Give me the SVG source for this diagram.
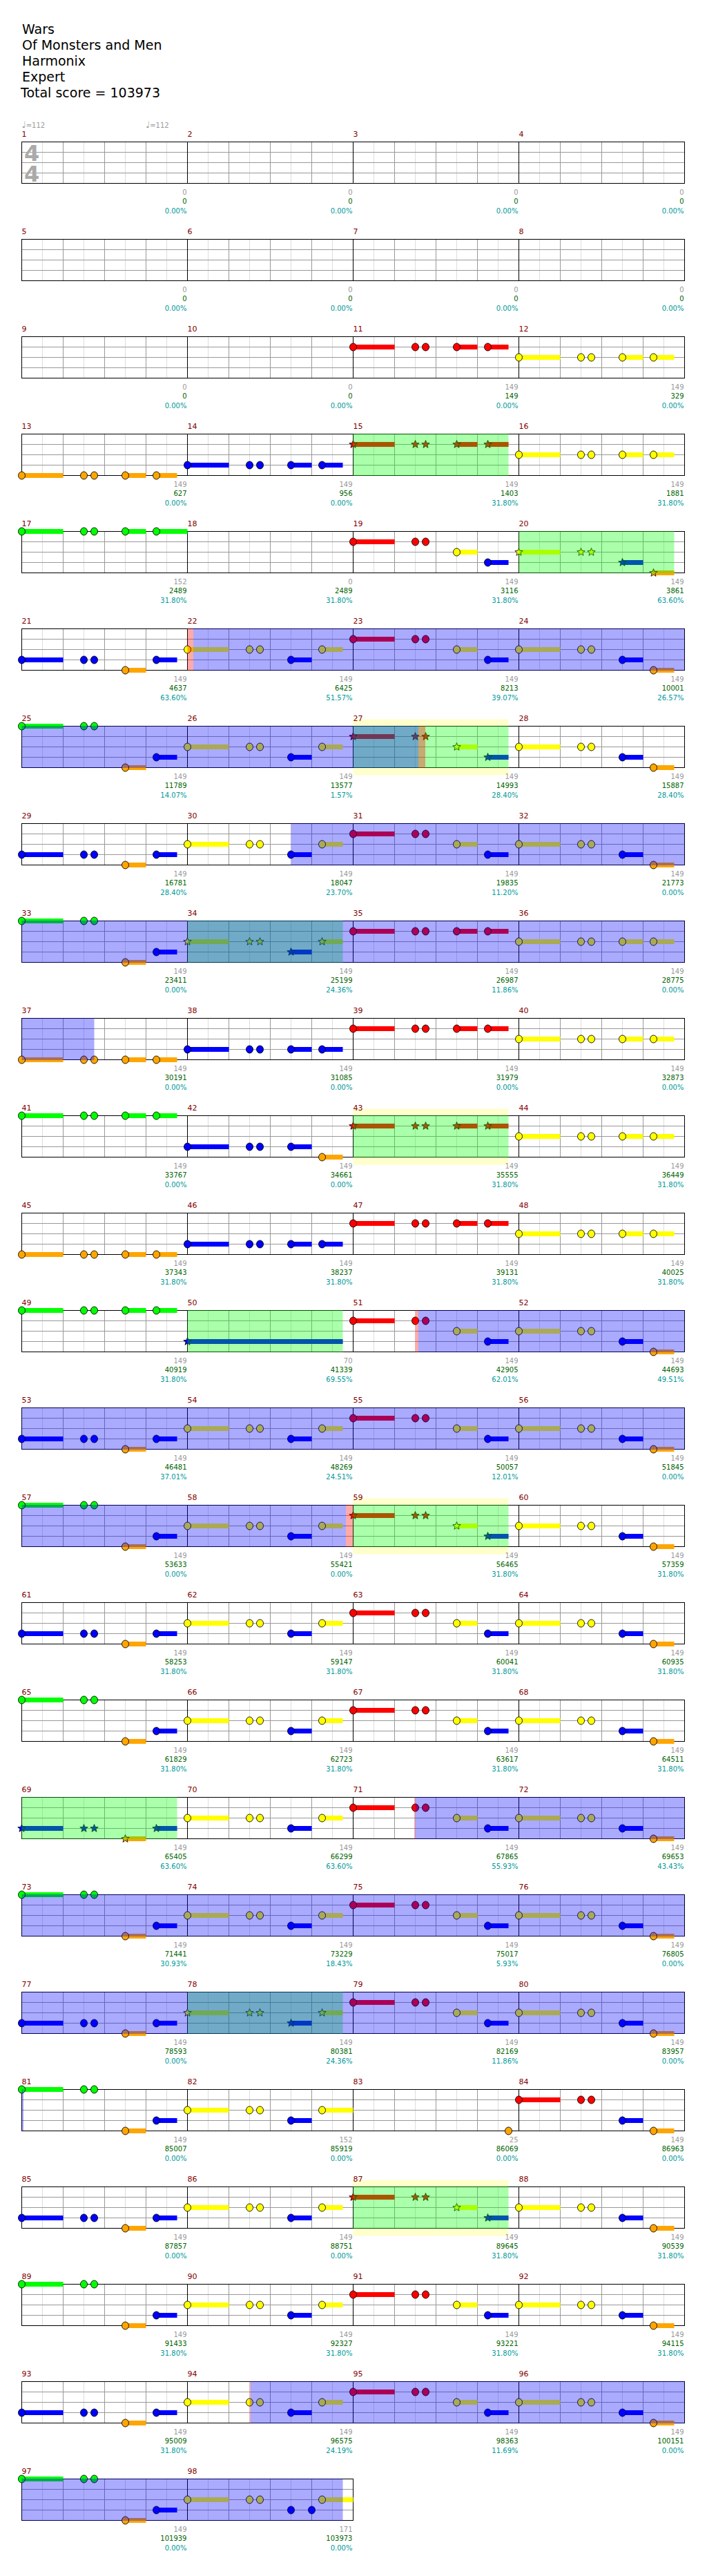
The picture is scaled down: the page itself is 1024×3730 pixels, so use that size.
<svg xmlns="http://www.w3.org/2000/svg" width="1024" height="3730" viewBox="0 0 1024 3730">
<style>
text{font-family:"DejaVu Sans","Liberation Sans",sans-serif}
.h{font-size:19px;fill:#000}
.mn{font-size:11px;fill:#800000}
.g{font-size:10px;fill:#999;text-anchor:end}
.s{font-size:10px;fill:#006400;text-anchor:end}
.p{font-size:10px;fill:#009999;text-anchor:end}
.ts{font-size:32px;font-weight:bold;fill:#aaa}
.tp{font-size:10px;fill:#999}
.ob{fill:#00f;fill-opacity:.333}
.og{fill:#0f0;fill-opacity:.333}
.or{fill:#f00;fill-opacity:.333}
.oy{fill:#ff0;fill-opacity:.2}
</style>
<defs>
<ellipse id="n" rx="5" ry="5.5" stroke="#000" stroke-width="0.9"/>
<polygon id="st" points="0,-6 1.53,-2.1 5.71,-1.85 2.47,0.8 3.53,4.85 0,2.6 -3.53,4.85 -2.47,0.8 -5.71,-1.85 -1.53,-2.1" stroke="#000" stroke-width="0.8"/>
<g id="p1"><rect x="0" y="-3.5" width="60" height="7"/><use href="#n"/><use href="#n" x="90"/><use href="#n" x="105"/></g>
<g id="p2"><rect x="150" y="-3.5" width="30" height="7"/><use href="#n" x="150"/></g>
<g id="p3"><rect x="195" y="-3.5" width="30" height="7"/><use href="#n" x="195"/></g>
<g id="p3L"><rect x="195" y="-3.5" width="45" height="7"/><use href="#n" x="195"/></g>
<g id="s1"><rect x="0" y="-3.5" width="60" height="7"/><use href="#st"/><use href="#st" x="90"/><use href="#st" x="105"/></g>
<g id="s2"><rect x="150" y="-3.5" width="30" height="7"/><use href="#st" x="150"/></g>
<g id="s3"><rect x="195" y="-3.5" width="30" height="7"/><use href="#st" x="195"/></g>
<g id="e"><use href="#p1"/><use href="#p2"/><use href="#p3"/></g>
<g id="es"><use href="#s1"/><use href="#s2"/><use href="#s3"/></g>
<g id="mA"><use href="#p1" y="45" fill="#00f"/><use href="#p2" y="60" fill="#ffa500"/><use href="#p3" y="45" fill="#00f"/></g>
<g id="mAG"><use href="#p1" y="0" fill="#0f0"/><use href="#p2" y="60" fill="#ffa500"/><use href="#p3" y="45" fill="#00f"/></g>
<g id="mB"><use href="#p1" y="30" fill="#ff0"/><use href="#p2" y="45" fill="#00f"/><use href="#p3" y="30" fill="#ff0"/></g>
<g id="mC"><use href="#p1" y="15" fill="#f00"/><use href="#p2" y="30" fill="#ff0"/><use href="#p3" y="45" fill="#00f"/></g>
<g id="mD"><use href="#p1" y="30" fill="#ff0"/><use href="#p2" y="45" fill="#00f"/><use href="#p3" y="60" fill="#ffa500"/></g>
<g id="mAs"><use href="#s1" y="45" fill="#00f"/><use href="#s2" y="60" fill="#ffa500"/><use href="#s3" y="45" fill="#00f"/></g>
<g id="mBs"><use href="#s1" y="30" fill="#ff0"/><use href="#s2" y="45" fill="#00f"/><use href="#s3" y="30" fill="#ff0"/></g>
<g id="mCs"><use href="#s1" y="15" fill="#f00"/><use href="#s2" y="30" fill="#ff0"/><use href="#s3" y="45" fill="#00f"/></g>
<g id="mDs"><use href="#s1" y="30" fill="#ff0"/><use href="#s2" y="45" fill="#00f"/><use href="#s3" y="60" fill="#ffa500"/></g>
<g id="mg">
<path d="M30 0V60M90 0V60M150 0V60M210 0V60" stroke="#ddd" fill="none"/>
<path d="M60 0V60M120 0V60M180 0V60" stroke="#999" fill="none"/>
<path d="M0 15H240M0 30H240M0 45H240" stroke="#999" fill="none"/>
<path d="M0 0V60" stroke="#000" fill="none"/>
</g>
<g id="rg"><rect width="960" height="60" fill="#fff"/><use href="#mg"/><use href="#mg" x="240"/><use href="#mg" x="480"/><use href="#mg" x="720"/><rect width="960" height="60" fill="none" stroke="#000"/></g>
<g id="rh"><rect width="480" height="60" fill="#fff"/><use href="#mg"/><use href="#mg" x="240"/><rect width="480" height="60" fill="none" stroke="#000"/></g>
</defs>
<rect width="1024" height="3730" fill="#fff"/>
<g id="header">
<text class="h" x="32" y="49">Wars</text>
<text class="h" x="32" y="72">Of Monsters and Men</text>
<text class="h" x="32" y="95">Harmonix</text>
<text class="h" x="32" y="118">Expert</text>
<text class="h" x="30" y="141">Total score = 103973</text>
</g>

<g id="row1" transform="translate(31.5 205.5)">
<use href="#rg"/>
<text class="ts"><tspan x="3.5" y="27">4</tspan><tspan x="3.5" y="57">4</tspan></text>
<text class="tp" x="0" y="-20.5"><tspan font-size="13">♩</tspan>=112</text>
<text class="tp" x="179.5" y="-20.5"><tspan font-size="13">♩</tspan>=112</text>
<text class="mn" y="-7.5"><tspan x="0">1</tspan><tspan x="240">2</tspan><tspan x="480">3</tspan><tspan x="720">4</tspan></text>
<text class="g" y="76"><tspan x="239">0</tspan><tspan x="479">0</tspan><tspan x="719">0</tspan><tspan x="959">0</tspan></text>
<text class="s" y="89.5"><tspan x="239">0</tspan><tspan x="479">0</tspan><tspan x="719">0</tspan><tspan x="959">0</tspan></text>
<text class="p" y="103"><tspan x="239">0.00%</tspan><tspan x="479">0.00%</tspan><tspan x="719">0.00%</tspan><tspan x="959">0.00%</tspan></text>
</g>

<g id="row2" transform="translate(31.5 346.5)">
<use href="#rg"/>
<text class="mn" y="-7.5"><tspan x="0">5</tspan><tspan x="240">6</tspan><tspan x="480">7</tspan><tspan x="720">8</tspan></text>
<text class="g" y="76"><tspan x="239">0</tspan><tspan x="479">0</tspan><tspan x="719">0</tspan><tspan x="959">0</tspan></text>
<text class="s" y="89.5"><tspan x="239">0</tspan><tspan x="479">0</tspan><tspan x="719">0</tspan><tspan x="959">0</tspan></text>
<text class="p" y="103"><tspan x="239">0.00%</tspan><tspan x="479">0.00%</tspan><tspan x="719">0.00%</tspan><tspan x="959">0.00%</tspan></text>
</g>

<g id="row3" transform="translate(31.5 487.5)">
<use href="#rg"/>
<use href="#e" x="480" y="15" fill="#f00"/><use href="#e" x="720" y="30" fill="#ff0"/>
<text class="mn" y="-7.5"><tspan x="0">9</tspan><tspan x="240">10</tspan><tspan x="480">11</tspan><tspan x="720">12</tspan></text>
<text class="g" y="76"><tspan x="239">0</tspan><tspan x="479">0</tspan><tspan x="719">149</tspan><tspan x="959">149</tspan></text>
<text class="s" y="89.5"><tspan x="239">0</tspan><tspan x="479">0</tspan><tspan x="719">149</tspan><tspan x="959">329</tspan></text>
<text class="p" y="103"><tspan x="239">0.00%</tspan><tspan x="479">0.00%</tspan><tspan x="719">0.00%</tspan><tspan x="959">0.00%</tspan></text>
</g>

<g id="row4" transform="translate(31.5 628.5)">
<use href="#rg"/>
<use href="#e" x="0" y="60" fill="#ffa500"/><use href="#e" x="240" y="45" fill="#00f"/><use href="#es" x="480" y="15" fill="#f00"/><use href="#e" x="720" y="30" fill="#ff0"/>
<rect class="og" x="480" y="-0.5" width="225" height="61"/>
<text class="mn" y="-7.5"><tspan x="0">13</tspan><tspan x="240">14</tspan><tspan x="480">15</tspan><tspan x="720">16</tspan></text>
<text class="g" y="76"><tspan x="239">149</tspan><tspan x="479">149</tspan><tspan x="719">149</tspan><tspan x="959">149</tspan></text>
<text class="s" y="89.5"><tspan x="239">627</tspan><tspan x="479">956</tspan><tspan x="719">1403</tspan><tspan x="959">1881</tspan></text>
<text class="p" y="103"><tspan x="239">0.00%</tspan><tspan x="479">0.00%</tspan><tspan x="719">31.80%</tspan><tspan x="959">31.80%</tspan></text>
</g>

<g id="row5" transform="translate(31.5 769.5)">
<use href="#rg"/>
<use href="#p1" fill="#0f0"/><use href="#p2" fill="#0f0"/><use href="#p3L" fill="#0f0"/>
<use href="#mC" x="480"/><use href="#mDs" x="720"/>
<rect class="og" x="720" y="-0.5" width="225" height="61"/>
<text class="mn" y="-7.5"><tspan x="0">17</tspan><tspan x="240">18</tspan><tspan x="480">19</tspan><tspan x="720">20</tspan></text>
<text class="g" y="76"><tspan x="239">152</tspan><tspan x="479">0</tspan><tspan x="719">149</tspan><tspan x="959">149</tspan></text>
<text class="s" y="89.5"><tspan x="239">2489</tspan><tspan x="479">2489</tspan><tspan x="719">3116</tspan><tspan x="959">3861</tspan></text>
<text class="p" y="103"><tspan x="239">31.80%</tspan><tspan x="479">31.80%</tspan><tspan x="719">31.80%</tspan><tspan x="959">63.60%</tspan></text>
</g>

<g id="row6" transform="translate(31.5 910.5)">
<use href="#rg"/>
<use href="#mA" x="0"/><use href="#mB" x="240"/><use href="#mC" x="480"/><use href="#mD" x="720"/>
<rect class="or" x="240" y="-0.5" width="8.5" height="61"/>
<rect class="ob" x="248.5" y="-0.5" width="711.5" height="61"/>
<text class="mn" y="-7.5"><tspan x="0">21</tspan><tspan x="240">22</tspan><tspan x="480">23</tspan><tspan x="720">24</tspan></text>
<text class="g" y="76"><tspan x="239">149</tspan><tspan x="479">149</tspan><tspan x="719">149</tspan><tspan x="959">149</tspan></text>
<text class="s" y="89.5"><tspan x="239">4637</tspan><tspan x="479">6425</tspan><tspan x="719">8213</tspan><tspan x="959">10001</tspan></text>
<text class="p" y="103"><tspan x="239">63.60%</tspan><tspan x="479">51.57%</tspan><tspan x="719">39.07%</tspan><tspan x="959">26.57%</tspan></text>
</g>

<g id="row7" transform="translate(31.5 1051.5)">
<rect class="oy" x="480" y="-10" width="225" height="81"/>
<use href="#rg"/>
<use href="#mAG" x="0"/><use href="#mB" x="240"/><use href="#mCs" x="480"/><use href="#mD" x="720"/>
<rect class="og" x="480" y="-0.5" width="225" height="61"/>
<rect class="or" x="574.5" y="-0.5" width="10" height="61"/>
<rect class="ob" x="0" y="-0.5" width="574.5" height="61"/>
<text class="mn" y="-7.5"><tspan x="0">25</tspan><tspan x="240">26</tspan><tspan x="480">27</tspan><tspan x="720">28</tspan></text>
<text class="g" y="76"><tspan x="239">149</tspan><tspan x="479">149</tspan><tspan x="719">149</tspan><tspan x="959">149</tspan></text>
<text class="s" y="89.5"><tspan x="239">11789</tspan><tspan x="479">13577</tspan><tspan x="719">14993</tspan><tspan x="959">15887</tspan></text>
<text class="p" y="103"><tspan x="239">14.07%</tspan><tspan x="479">1.57%</tspan><tspan x="719">28.40%</tspan><tspan x="959">28.40%</tspan></text>
</g>

<g id="row8" transform="translate(31.5 1192.5)">
<use href="#rg"/>
<use href="#mA" x="0"/><use href="#mB" x="240"/><use href="#mC" x="480"/><use href="#mD" x="720"/>
<rect class="ob" x="390" y="-0.5" width="570" height="61"/>
<text class="mn" y="-7.5"><tspan x="0">29</tspan><tspan x="240">30</tspan><tspan x="480">31</tspan><tspan x="720">32</tspan></text>
<text class="g" y="76"><tspan x="239">149</tspan><tspan x="479">149</tspan><tspan x="719">149</tspan><tspan x="959">149</tspan></text>
<text class="s" y="89.5"><tspan x="239">16781</tspan><tspan x="479">18047</tspan><tspan x="719">19835</tspan><tspan x="959">21773</tspan></text>
<text class="p" y="103"><tspan x="239">28.40%</tspan><tspan x="479">23.70%</tspan><tspan x="719">11.20%</tspan><tspan x="959">0.00%</tspan></text>
</g>

<g id="row9" transform="translate(31.5 1333.5)">
<use href="#rg"/>
<use href="#mAG" x="0"/><use href="#mBs" x="240"/><use href="#e" x="480" y="15" fill="#f00"/><use href="#e" x="720" y="30" fill="#ff0"/>
<rect class="og" x="240" y="-0.5" width="225" height="61"/>
<rect class="ob" x="0" y="-0.5" width="960" height="61"/>
<text class="mn" y="-7.5"><tspan x="0">33</tspan><tspan x="240">34</tspan><tspan x="480">35</tspan><tspan x="720">36</tspan></text>
<text class="g" y="76"><tspan x="239">149</tspan><tspan x="479">149</tspan><tspan x="719">149</tspan><tspan x="959">149</tspan></text>
<text class="s" y="89.5"><tspan x="239">23411</tspan><tspan x="479">25199</tspan><tspan x="719">26987</tspan><tspan x="959">28775</tspan></text>
<text class="p" y="103"><tspan x="239">0.00%</tspan><tspan x="479">24.36%</tspan><tspan x="719">11.86%</tspan><tspan x="959">0.00%</tspan></text>
</g>

<g id="row10" transform="translate(31.5 1474.5)">
<use href="#rg"/>
<use href="#e" x="0" y="60" fill="#ffa500"/><use href="#e" x="240" y="45" fill="#00f"/><use href="#e" x="480" y="15" fill="#f00"/><use href="#e" x="720" y="30" fill="#ff0"/>
<rect class="ob" x="0" y="-0.5" width="105" height="61"/>
<text class="mn" y="-7.5"><tspan x="0">37</tspan><tspan x="240">38</tspan><tspan x="480">39</tspan><tspan x="720">40</tspan></text>
<text class="g" y="76"><tspan x="239">149</tspan><tspan x="479">149</tspan><tspan x="719">149</tspan><tspan x="959">149</tspan></text>
<text class="s" y="89.5"><tspan x="239">30191</tspan><tspan x="479">31085</tspan><tspan x="719">31979</tspan><tspan x="959">32873</tspan></text>
<text class="p" y="103"><tspan x="239">0.00%</tspan><tspan x="479">0.00%</tspan><tspan x="719">0.00%</tspan><tspan x="959">0.00%</tspan></text>
</g>

<g id="row11" transform="translate(31.5 1615.5)">
<rect class="oy" x="480" y="-10" width="225" height="81"/>
<use href="#rg"/>
<use href="#e" x="0" y="0" fill="#0f0"/>
<use href="#p1" x="240" y="45" fill="#00f"/><use href="#p2" x="240" y="45" fill="#00f"/><use href="#p3" x="240" y="60" fill="#ffa500"/>
<use href="#es" x="480" y="15" fill="#f00"/><use href="#e" x="720" y="30" fill="#ff0"/>
<rect class="og" x="480" y="-0.5" width="225" height="61"/>
<text class="mn" y="-7.5"><tspan x="0">41</tspan><tspan x="240">42</tspan><tspan x="480">43</tspan><tspan x="720">44</tspan></text>
<text class="g" y="76"><tspan x="239">149</tspan><tspan x="479">149</tspan><tspan x="719">149</tspan><tspan x="959">149</tspan></text>
<text class="s" y="89.5"><tspan x="239">33767</tspan><tspan x="479">34661</tspan><tspan x="719">35555</tspan><tspan x="959">36449</tspan></text>
<text class="p" y="103"><tspan x="239">0.00%</tspan><tspan x="479">0.00%</tspan><tspan x="719">31.80%</tspan><tspan x="959">31.80%</tspan></text>
</g>

<g id="row12" transform="translate(31.5 1756.5)">
<use href="#rg"/>
<use href="#e" x="0" y="60" fill="#ffa500"/><use href="#e" x="240" y="45" fill="#00f"/><use href="#e" x="480" y="15" fill="#f00"/><use href="#e" x="720" y="30" fill="#ff0"/>
<text class="mn" y="-7.5"><tspan x="0">45</tspan><tspan x="240">46</tspan><tspan x="480">47</tspan><tspan x="720">48</tspan></text>
<text class="g" y="76"><tspan x="239">149</tspan><tspan x="479">149</tspan><tspan x="719">149</tspan><tspan x="959">149</tspan></text>
<text class="s" y="89.5"><tspan x="239">37343</tspan><tspan x="479">38237</tspan><tspan x="719">39131</tspan><tspan x="959">40025</tspan></text>
<text class="p" y="103"><tspan x="239">31.80%</tspan><tspan x="479">31.80%</tspan><tspan x="719">31.80%</tspan><tspan x="959">31.80%</tspan></text>
</g>

<g id="row13" transform="translate(31.5 1897.5)">
<use href="#rg"/>
<use href="#e" x="0" y="0" fill="#0f0"/>
<rect x="240" y="41.5" width="225" height="7" fill="#00f"/><use href="#st" x="240" y="45" fill="#00f"/>
<use href="#mC" x="480"/><use href="#mD" x="720"/>
<rect class="og" x="240" y="-0.5" width="225" height="61"/>
<rect class="or" x="570" y="-0.5" width="4.5" height="61"/>
<rect class="ob" x="574.5" y="-0.5" width="385.5" height="61"/>
<text class="mn" y="-7.5"><tspan x="0">49</tspan><tspan x="240">50</tspan><tspan x="480">51</tspan><tspan x="720">52</tspan></text>
<text class="g" y="76"><tspan x="239">149</tspan><tspan x="479">70</tspan><tspan x="719">149</tspan><tspan x="959">149</tspan></text>
<text class="s" y="89.5"><tspan x="239">40919</tspan><tspan x="479">41339</tspan><tspan x="719">42905</tspan><tspan x="959">44693</tspan></text>
<text class="p" y="103"><tspan x="239">31.80%</tspan><tspan x="479">69.55%</tspan><tspan x="719">62.01%</tspan><tspan x="959">49.51%</tspan></text>
</g>

<g id="row14" transform="translate(31.5 2038.5)">
<use href="#rg"/>
<use href="#mA" x="0"/><use href="#mB" x="240"/><use href="#mC" x="480"/><use href="#mD" x="720"/>
<rect class="ob" x="0" y="-0.5" width="960" height="61"/>
<text class="mn" y="-7.5"><tspan x="0">53</tspan><tspan x="240">54</tspan><tspan x="480">55</tspan><tspan x="720">56</tspan></text>
<text class="g" y="76"><tspan x="239">149</tspan><tspan x="479">149</tspan><tspan x="719">149</tspan><tspan x="959">149</tspan></text>
<text class="s" y="89.5"><tspan x="239">46481</tspan><tspan x="479">48269</tspan><tspan x="719">50057</tspan><tspan x="959">51845</tspan></text>
<text class="p" y="103"><tspan x="239">37.01%</tspan><tspan x="479">24.51%</tspan><tspan x="719">12.01%</tspan><tspan x="959">0.00%</tspan></text>
</g>

<g id="row15" transform="translate(31.5 2179.5)">
<rect class="oy" x="480" y="-10" width="225" height="81"/>
<use href="#rg"/>
<use href="#mAG" x="0"/><use href="#mB" x="240"/><use href="#mCs" x="480"/><use href="#mD" x="720"/>
<rect class="og" x="480" y="-0.5" width="225" height="61"/>
<rect class="or" x="469.5" y="-0.5" width="10.5" height="61"/>
<rect class="ob" x="0" y="-0.5" width="469.5" height="61"/>
<text class="mn" y="-7.5"><tspan x="0">57</tspan><tspan x="240">58</tspan><tspan x="480">59</tspan><tspan x="720">60</tspan></text>
<text class="g" y="76"><tspan x="239">149</tspan><tspan x="479">149</tspan><tspan x="719">149</tspan><tspan x="959">149</tspan></text>
<text class="s" y="89.5"><tspan x="239">53633</tspan><tspan x="479">55421</tspan><tspan x="719">56465</tspan><tspan x="959">57359</tspan></text>
<text class="p" y="103"><tspan x="239">0.00%</tspan><tspan x="479">0.00%</tspan><tspan x="719">31.80%</tspan><tspan x="959">31.80%</tspan></text>
</g>

<g id="row16" transform="translate(31.5 2320.5)">
<use href="#rg"/>
<use href="#mA" x="0"/><use href="#mB" x="240"/><use href="#mC" x="480"/><use href="#mD" x="720"/>
<text class="mn" y="-7.5"><tspan x="0">61</tspan><tspan x="240">62</tspan><tspan x="480">63</tspan><tspan x="720">64</tspan></text>
<text class="g" y="76"><tspan x="239">149</tspan><tspan x="479">149</tspan><tspan x="719">149</tspan><tspan x="959">149</tspan></text>
<text class="s" y="89.5"><tspan x="239">58253</tspan><tspan x="479">59147</tspan><tspan x="719">60041</tspan><tspan x="959">60935</tspan></text>
<text class="p" y="103"><tspan x="239">31.80%</tspan><tspan x="479">31.80%</tspan><tspan x="719">31.80%</tspan><tspan x="959">31.80%</tspan></text>
</g>

<g id="row17" transform="translate(31.5 2461.5)">
<use href="#rg"/>
<use href="#mAG" x="0"/><use href="#mB" x="240"/><use href="#mC" x="480"/><use href="#mD" x="720"/>
<text class="mn" y="-7.5"><tspan x="0">65</tspan><tspan x="240">66</tspan><tspan x="480">67</tspan><tspan x="720">68</tspan></text>
<text class="g" y="76"><tspan x="239">149</tspan><tspan x="479">149</tspan><tspan x="719">149</tspan><tspan x="959">149</tspan></text>
<text class="s" y="89.5"><tspan x="239">61829</tspan><tspan x="479">62723</tspan><tspan x="719">63617</tspan><tspan x="959">64511</tspan></text>
<text class="p" y="103"><tspan x="239">31.80%</tspan><tspan x="479">31.80%</tspan><tspan x="719">31.80%</tspan><tspan x="959">31.80%</tspan></text>
</g>

<g id="row18" transform="translate(31.5 2602.5)">
<use href="#rg"/>
<use href="#mAs" x="0"/><use href="#mB" x="240"/><use href="#mC" x="480"/><use href="#mD" x="720"/>
<rect class="og" x="0" y="-0.5" width="225" height="61"/>
<rect class="or" x="568.5" y="-0.5" width="1.5" height="61"/>
<rect class="ob" x="570" y="-0.5" width="390" height="61"/>
<text class="mn" y="-7.5"><tspan x="0">69</tspan><tspan x="240">70</tspan><tspan x="480">71</tspan><tspan x="720">72</tspan></text>
<text class="g" y="76"><tspan x="239">149</tspan><tspan x="479">149</tspan><tspan x="719">149</tspan><tspan x="959">149</tspan></text>
<text class="s" y="89.5"><tspan x="239">65405</tspan><tspan x="479">66299</tspan><tspan x="719">67865</tspan><tspan x="959">69653</tspan></text>
<text class="p" y="103"><tspan x="239">63.60%</tspan><tspan x="479">63.60%</tspan><tspan x="719">55.93%</tspan><tspan x="959">43.43%</tspan></text>
</g>

<g id="row19" transform="translate(31.5 2743.5)">
<use href="#rg"/>
<use href="#mAG" x="0"/><use href="#mB" x="240"/><use href="#mC" x="480"/><use href="#mD" x="720"/>
<rect class="ob" x="0" y="-0.5" width="960" height="61"/>
<text class="mn" y="-7.5"><tspan x="0">73</tspan><tspan x="240">74</tspan><tspan x="480">75</tspan><tspan x="720">76</tspan></text>
<text class="g" y="76"><tspan x="239">149</tspan><tspan x="479">149</tspan><tspan x="719">149</tspan><tspan x="959">149</tspan></text>
<text class="s" y="89.5"><tspan x="239">71441</tspan><tspan x="479">73229</tspan><tspan x="719">75017</tspan><tspan x="959">76805</tspan></text>
<text class="p" y="103"><tspan x="239">30.93%</tspan><tspan x="479">18.43%</tspan><tspan x="719">5.93%</tspan><tspan x="959">0.00%</tspan></text>
</g>

<g id="row20" transform="translate(31.5 2884.5)">
<use href="#rg"/>
<use href="#mA" x="0"/><use href="#mBs" x="240"/><use href="#mC" x="480"/><use href="#mD" x="720"/>
<rect class="og" x="240" y="-0.5" width="225" height="61"/>
<rect class="ob" x="0" y="-0.5" width="960" height="61"/>
<text class="mn" y="-7.5"><tspan x="0">77</tspan><tspan x="240">78</tspan><tspan x="480">79</tspan><tspan x="720">80</tspan></text>
<text class="g" y="76"><tspan x="239">149</tspan><tspan x="479">149</tspan><tspan x="719">149</tspan><tspan x="959">149</tspan></text>
<text class="s" y="89.5"><tspan x="239">78593</tspan><tspan x="479">80381</tspan><tspan x="719">82169</tspan><tspan x="959">83957</tspan></text>
<text class="p" y="103"><tspan x="239">0.00%</tspan><tspan x="479">24.36%</tspan><tspan x="719">11.86%</tspan><tspan x="959">0.00%</tspan></text>
</g>

<g id="row21" transform="translate(31.5 3025.5)">
<use href="#rg"/>
<use href="#mAG" x="0"/>
<use href="#p1" x="240" y="30" fill="#ff0"/><use href="#p2" x="240" y="45" fill="#00f"/><use href="#p3L" x="240" y="30" fill="#ff0"/>
<use href="#n" x="705" y="60" fill="#ffa500"/>
<use href="#p1" x="720" y="15" fill="#f00"/><use href="#p2" x="720" y="45" fill="#00f"/><use href="#p3" x="720" y="60" fill="#ffa500"/>
<rect class="ob" x="0" y="-0.5" width="2.5" height="61"/>
<text class="mn" y="-7.5"><tspan x="0">81</tspan><tspan x="240">82</tspan><tspan x="480">83</tspan><tspan x="720">84</tspan></text>
<text class="g" y="76"><tspan x="239">149</tspan><tspan x="479">152</tspan><tspan x="719">25</tspan><tspan x="959">149</tspan></text>
<text class="s" y="89.5"><tspan x="239">85007</tspan><tspan x="479">85919</tspan><tspan x="719">86069</tspan><tspan x="959">86963</tspan></text>
<text class="p" y="103"><tspan x="239">0.00%</tspan><tspan x="479">0.00%</tspan><tspan x="719">0.00%</tspan><tspan x="959">0.00%</tspan></text>
</g>

<g id="row22" transform="translate(31.5 3166.5)">
<rect class="oy" x="480" y="-10" width="225" height="81"/>
<use href="#rg"/>
<use href="#mA" x="0"/><use href="#mB" x="240"/><use href="#mCs" x="480"/><use href="#mD" x="720"/>
<rect class="og" x="480" y="-0.5" width="225" height="61"/>
<text class="mn" y="-7.5"><tspan x="0">85</tspan><tspan x="240">86</tspan><tspan x="480">87</tspan><tspan x="720">88</tspan></text>
<text class="g" y="76"><tspan x="239">149</tspan><tspan x="479">149</tspan><tspan x="719">149</tspan><tspan x="959">149</tspan></text>
<text class="s" y="89.5"><tspan x="239">87857</tspan><tspan x="479">88751</tspan><tspan x="719">89645</tspan><tspan x="959">90539</tspan></text>
<text class="p" y="103"><tspan x="239">0.00%</tspan><tspan x="479">0.00%</tspan><tspan x="719">31.80%</tspan><tspan x="959">31.80%</tspan></text>
</g>

<g id="row23" transform="translate(31.5 3307.5)">
<use href="#rg"/>
<use href="#mAG" x="0"/><use href="#mB" x="240"/><use href="#mC" x="480"/><use href="#mD" x="720"/>
<text class="mn" y="-7.5"><tspan x="0">89</tspan><tspan x="240">90</tspan><tspan x="480">91</tspan><tspan x="720">92</tspan></text>
<text class="g" y="76"><tspan x="239">149</tspan><tspan x="479">149</tspan><tspan x="719">149</tspan><tspan x="959">149</tspan></text>
<text class="s" y="89.5"><tspan x="239">91433</tspan><tspan x="479">92327</tspan><tspan x="719">93221</tspan><tspan x="959">94115</tspan></text>
<text class="p" y="103"><tspan x="239">31.80%</tspan><tspan x="479">31.80%</tspan><tspan x="719">31.80%</tspan><tspan x="959">31.80%</tspan></text>
</g>

<g id="row24" transform="translate(31.5 3448.5)">
<use href="#rg"/>
<use href="#mA" x="0"/><use href="#mB" x="240"/><use href="#mC" x="480"/><use href="#mD" x="720"/>
<rect class="or" x="330" y="-0.5" width="1.5" height="61"/>
<rect class="ob" x="331.5" y="-0.5" width="628.5" height="61"/>
<text class="mn" y="-7.5"><tspan x="0">93</tspan><tspan x="240">94</tspan><tspan x="480">95</tspan><tspan x="720">96</tspan></text>
<text class="g" y="76"><tspan x="239">149</tspan><tspan x="479">149</tspan><tspan x="719">149</tspan><tspan x="959">149</tspan></text>
<text class="s" y="89.5"><tspan x="239">95009</tspan><tspan x="479">96575</tspan><tspan x="719">98363</tspan><tspan x="959">100151</tspan></text>
<text class="p" y="103"><tspan x="239">31.80%</tspan><tspan x="479">24.19%</tspan><tspan x="719">11.69%</tspan><tspan x="959">0.00%</tspan></text>
</g>

<g id="row25" transform="translate(31.5 3589.5)">
<use href="#rh"/>
<use href="#mAG" x="0"/>
<use href="#p1" x="240" y="30" fill="#ff0"/><use href="#n" x="390" y="45" fill="#00f"/><use href="#n" x="420" y="45" fill="#00f"/><use href="#p3L" x="240" y="30" fill="#ff0"/>
<rect class="ob" x="0" y="-0.5" width="465" height="61"/>
<text class="mn" y="-7.5"><tspan x="0">97</tspan><tspan x="240">98</tspan></text>
<text class="g" y="76"><tspan x="239">149</tspan><tspan x="479">171</tspan></text>
<text class="s" y="89.5"><tspan x="239">101939</tspan><tspan x="479">103973</tspan></text>
<text class="p" y="103"><tspan x="239">0.00%</tspan><tspan x="479">0.00%</tspan></text>
</g>
</svg>
